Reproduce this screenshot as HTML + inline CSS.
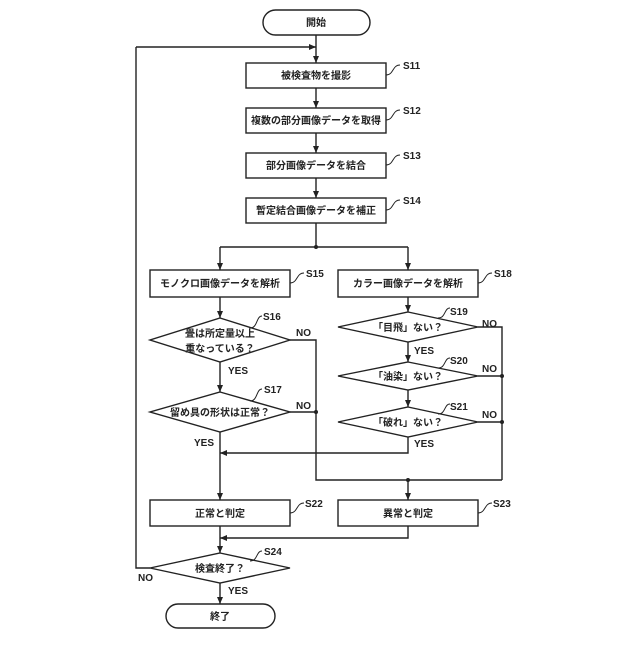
<!DOCTYPE html>
<html><head><meta charset="utf-8"><style>
body{margin:0;background:#fff}
text{font-family:"Liberation Sans","Noto Sans CJK JP",sans-serif;font-size:10px;font-weight:bold;fill:#222}
.t{text-anchor:middle}
</style></head><body>
<svg width="640" height="640" viewBox="0 0 640 640" xmlns="http://www.w3.org/2000/svg">
<defs><marker id="a" markerWidth="8" markerHeight="8" refX="7" refY="4" orient="auto" markerUnits="userSpaceOnUse"><path d="M0,1 L7,4 L0,7z" fill="#222"/></marker></defs>
<g stroke="#222" stroke-width="1.4" fill="none">
<rect x="263" y="10" width="107" height="25" rx="12.5"/>
<rect x="246" y="63" width="140" height="25"/>
<rect x="246" y="108" width="140" height="25"/>
<rect x="246" y="153" width="140" height="25"/>
<rect x="246" y="198" width="140" height="25"/>
<rect x="150" y="270" width="140" height="27"/>
<rect x="338" y="270" width="140" height="27"/>
<rect x="150" y="500" width="140" height="26"/>
<rect x="338" y="500" width="140" height="26"/>
<rect x="166" y="604" width="109" height="24" rx="12"/>
<path d="M220,318 L290,340 L220,362 L150,340z"/>
<path d="M220,392 L290,412 L220,432 L150,412z"/>
<path d="M408,312 L478,327 L408,342 L338,327z"/>
<path d="M408,362 L478,376 L408,390 L338,376z"/>
<path d="M408,407 L478,422 L408,437 L338,422z"/>
<path d="M220,553 L290,568 L220,583 L150,568z"/>
<g marker-end="url(#a)">
<path d="M316,35 V63"/><path d="M316,88 V108"/><path d="M316,133 V153"/><path d="M316,178 V198"/>
<path d="M136,47 H316"/>
<path d="M220,247 V270"/><path d="M408,247 V270"/>
<path d="M220,297 V318"/><path d="M408,297 V312"/>
<path d="M220,362 V392"/><path d="M408,342 V362"/><path d="M408,390 V407"/>
<path d="M408,437 V453 H220"/>
<path d="M220,432 V500"/>
<path d="M408,480 V500"/>
<path d="M408,526 V538 H220"/>
<path d="M220,526 V553"/>
<path d="M220,583 V604"/>
</g>
<path d="M316,223 V247"/><path d="M220,247 H408"/>
<path d="M290,340 H316 V480 H502"/>
<path d="M290,412 H316"/>
<path d="M478,327 H502 V480"/><path d="M478,376 H502"/><path d="M478,422 H502"/>
<path d="M150,568 H136 V47"/>
<g stroke-width="1">
<path d="M386,75 c8,0 6,-10 14,-10"/><path d="M386,120 c8,0 6,-10 14,-10"/><path d="M386,165 c8,0 6,-10 14,-10"/><path d="M386,210 c8,0 6,-10 14,-10"/>
<path d="M290,283 c8,0 6,-10 14,-10"/><path d="M478,283 c8,0 6,-10 14,-10"/>
<path d="M250,328 c8,0 6,-12 12,-12"/><path d="M250,401 c8,0 6,-12 12,-12"/>
<path d="M438,318 c8,0 6,-10 12,-10"/><path d="M438,368 c8,0 6,-10 12,-10"/><path d="M438,414 c8,0 6,-10 12,-10"/>
<path d="M290,513 c8,0 6,-10 14,-10"/><path d="M478,513 c8,0 6,-10 14,-10"/>
<path d="M250,561 c8,0 6,-10 12,-10"/>
</g>
</g>
<g fill="#222"><circle cx="316" cy="247" r="2"/><circle cx="316" cy="412" r="2"/><circle cx="502" cy="376" r="2"/><circle cx="502" cy="422" r="2"/><circle cx="408" cy="480" r="2"/></g>
<text class="t" x="316" y="26">開始</text>
<text class="t" x="316" y="79">被検査物を撮影</text>
<text class="t" x="316" y="124">複数の部分画像データを取得</text>
<text class="t" x="316" y="169">部分画像データを結合</text>
<text class="t" x="316" y="214">暫定結合画像データを補正</text>
<text class="t" x="220" y="287">モノクロ画像データを解析</text>
<text class="t" x="408" y="287">カラー画像データを解析</text>
<text class="t" x="220" y="337">畳は所定量以上</text>
<text class="t" x="220" y="352">重なっている？</text>
<text class="t" x="220" y="416">留め具の形状は正常？</text>
<text class="t" x="408" y="331">「目飛」ない？</text>
<text class="t" x="408" y="380">「油染」ない？</text>
<text class="t" x="408" y="426">「破れ」ない？</text>
<text class="t" x="220" y="517">正常と判定</text>
<text class="t" x="408" y="517">異常と判定</text>
<text class="t" x="220" y="572">検査終了？</text>
<text class="t" x="220" y="620">終了</text>
<text x="403" y="69">S11</text><text x="403" y="114">S12</text><text x="403" y="159">S13</text><text x="403" y="204">S14</text>
<text x="306" y="277">S15</text><text x="494" y="277">S18</text>
<text x="263" y="320">S16</text><text x="264" y="393">S17</text>
<text x="450" y="315">S19</text><text x="450" y="364">S20</text><text x="450" y="410">S21</text>
<text x="305" y="507">S22</text><text x="493" y="507">S23</text><text x="264" y="555">S24</text>
<text x="296" y="336">NO</text><text x="296" y="409">NO</text>
<text x="482" y="327">NO</text><text x="482" y="372">NO</text><text x="482" y="418">NO</text>
<text x="228" y="374">YES</text><text x="194" y="446">YES</text>
<text x="414" y="354">YES</text><text x="414" y="447">YES</text>
<text x="138" y="581">NO</text><text x="228" y="594">YES</text>
</svg>
</body></html>
